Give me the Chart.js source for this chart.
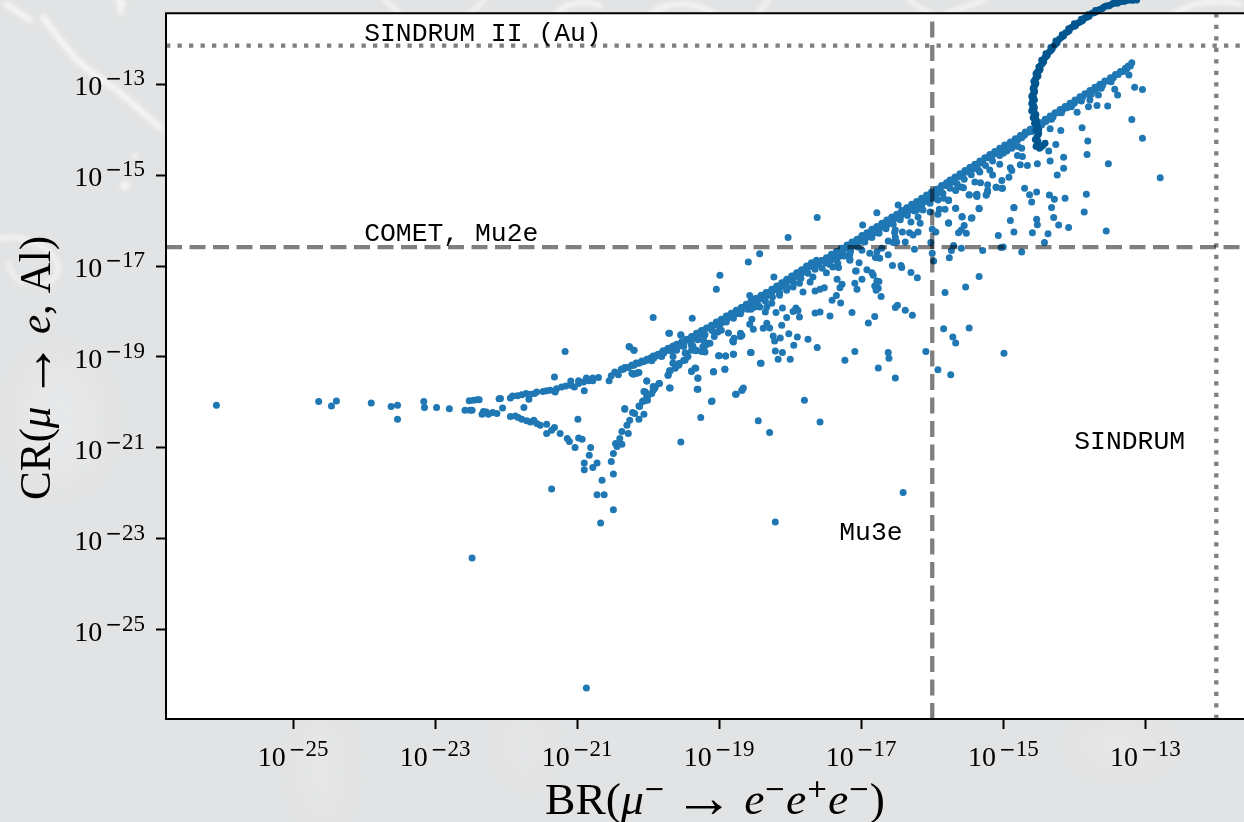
<!DOCTYPE html>
<html>
<head>
<meta charset="utf-8">
<title>BR vs CR</title>
<script src="https://cdn.jsdelivr.net/npm/chart.js@4/dist/chart.umd.min.js"></script>
<style>
  html, body { margin: 0; padding: 0; width: 1244px; height: 822px; overflow: hidden; background: #e2e3e4; }
  #backdrop { position: absolute; left: 0; top: 0; }
  #chart { position: absolute; left: 0; top: 0; }
</style>
</head>
<body>
<!-- faint track photo behind the figure -->
<svg id="backdrop" width="1244" height="822">
  <defs>
    <filter id="soft" x="-20%" y="-20%" width="140%" height="140%"><feGaussianBlur stdDeviation="2"/></filter>
    <filter id="softer" x="-50%" y="-50%" width="200%" height="200%"><feGaussianBlur stdDeviation="14"/></filter>
  </defs>
  <g filter="url(#softer)" fill="#e7e8e9">
    <ellipse cx="322" cy="770" rx="16" ry="50"/>
    <ellipse cx="525" cy="745" rx="14" ry="30"/>
    <ellipse cx="1120" cy="745" rx="40" ry="16"/>
    <ellipse cx="60" cy="420" rx="40" ry="60"/>
  </g>
  <g filter="url(#soft)" fill="none" stroke="#f6f6f6" stroke-linecap="round">
    <path stroke-width="6" d="M7 5 L30 20"/>
    <path stroke-width="6" d="M43 17 Q58 38 77 60 Q95 76 117 90 Q138 108 160 128"/>
    <path stroke-width="4" d="M0 239 Q20 234 43 247 Q62 262 58 272 Q52 286 38 284"/>
    <path stroke-width="3" d="M8 262 Q10 276 24 284"/>
    <path stroke-width="5" d="M122 0 L123 5"/>
    <path stroke-width="4" d="M118 0 L121 14"/>
    <path stroke-width="4" d="M385 0 L400 14"/>
    <path stroke-width="4" d="M485 0 L470 14"/>
    <path stroke-width="5" d="M555 14 Q575 -4 600 6"/>
    <path stroke-width="5" d="M650 14 Q680 -6 715 14"/>
    <path stroke-width="4" d="M768 0 L758 14"/>
    <path stroke-width="4" d="M908 0 L930 14"/>
    <path stroke-width="4" d="M985 0 L945 14"/>
    <path stroke-width="5" d="M1175 14 Q1200 -4 1240 4"/>
  </g>
  <g filter="url(#soft)" fill="#f8f8f8">
    <circle cx="125" cy="186" r="4"/>
    <circle cx="135" cy="156" r="2.5"/>
  </g>
</svg>
<canvas id="chart" width="1244" height="822"></canvas>
<script>
// all values below are log10 of the quantity

const tickExponents = [-25, -23, -21, -19, -17, -15, -13];

// scale limits, the y scale runs up to the top of the page so the curve can leave the frame
const xLimits = [-26.79, -11.61];
const yLimits = [-26.96, -11.15];
const frameTop = -11.44;

// limit lines
const lineCR = [-12.155, -16.585];   // SINDRUM II (Au), COMET/Mu2e
const lineBR = [-16, -12];           // Mu3e, SINDRUM

const noteTexts = ['SINDRUM II (Au)', 'COMET, Mu2e', 'Mu3e', 'SINDRUM'];
const noteBR = [-24, -24, -17.31, -14];
const noteCR = [-12.05, -16.45, -23.02, -21.02];

// far left tail
const tailBR = [-26.08,-24.64,-24.46,-24.39,-23.90,-23.62,-23.53,-23.53,-23.16,-23.15,-22.98,-22.80,-22.58,-22.51,-22.48,-22.52,-22.46,-22.41,-22.38,-22.34,-22.32,-22.28,-22.25,-22.19,-22.13,-22.10,-22.48,-20.87];
const tailCR = [-20.06,-19.98,-20.08,-19.97,-20.01,-20.09,-20.06,-20.37,-19.98,-20.11,-20.11,-20.14,-20.17,-20.17,-20.17,-19.96,-19.95,-19.94,-19.94,-20.26,-20.20,-20.21,-20.26,-20.22,-20.24,-19.92,-23.42,-26.28];

// upper branch up to where the main band starts
const upperBR = [-22.08,-21.94,-21.91,-21.84,-21.78,-21.72,-21.68,-21.66,-21.60,-21.57,-21.48,-21.43,-21.38,-21.31,-21.29,-21.22,-21.16,-21.09,-21.09,-21.04,-20.98,-20.98,-20.91,-20.90,-20.87,-20.84,-20.78,-20.78,-20.70,-21.32,-21.17,-20.55,-20.52,-20.47,-20.42,-20.37,-20.32,-20.26,-20.20,-20.23,-20.16,-20.09,-20.02,-19.97,-19.93,-19.86,-19.79,-19.72,-19.65,-19.57,-19.50,-19.43,-19.36,-19.29,-19.22,-20.23,-20.16,-20.13,-19.70,-19.54];
const upperCR = [-19.91,-19.90,-19.86,-19.85,-19.83,-19.80,-19.93,-19.82,-19.80,-19.77,-19.76,-19.74,-19.73,-19.77,-19.70,-19.66,-19.64,-19.53,-19.62,-19.66,-19.52,-19.58,-19.55,-19.74,-19.46,-19.52,-19.46,-19.52,-19.45,-19.44,-18.88,-19.52,-19.41,-19.33,-19.39,-19.27,-19.23,-18.78,-18.85,-19.18,-19.14,-19.11,-19.07,-19.03,-18.98,-18.94,-18.86,-18.81,-18.76,-18.72,-18.67,-18.62,-18.56,-18.48,-18.43,-19.36,-19.36,-19.34,-18.48,-18.51];

// branch bending down towards 1e-22
const lowerBR = [-22.05,-21.94,-21.87,-21.83,-21.78,-21.71,-21.66,-21.61,-21.57,-21.52,-21.43,-21.32,-21.36,-21.43,-21.24,-21.14,-21.11,-20.98,-20.93,-21.03,-20.81,-20.83,-20.90,-20.72,-20.78,-20.90,-20.65,-20.72,-20.62,-21.36,-20.49,-20.67,-21.75,-20.99];
const lowerCR = [-20.12,-20.31,-20.30,-20.33,-20.37,-20.40,-20.43,-20.39,-20.46,-20.50,-20.48,-20.55,-20.61,-20.68,-20.68,-20.79,-20.86,-20.78,-20.81,-20.99,-20.99,-21.16,-21.33,-21.33,-21.43,-21.48,-21.71,-22.03,-22.03,-21.90,-22.36,-22.65,-20.11,-20.37];

// branch coming back up
const riseBR = [-20.49,-20.52,-20.49,-20.44,-20.46,-20.37,-20.40,-20.37,-20.28,-20.30,-20.26,-20.13,-20.22,-20.19,-20.06,-20.33,-20.12,-20.07,-20.01,-20.04,-20.00,-19.93,-19.90,-19.84,-20.02,-19.69,-19.72,-19.69,-19.62,-19.57,-19.65,-19.50,-19.46,-19.39,-19.32,-19.22,-19.15,-19.20,-19.10,-19.54,-19.26,-18.76,-18.68,-18.45,-19.00,-18.91,-18.80,-18.55,-19.39,-19.33,-19.30,-19.30,-19.08,-18.92,-18.80,-18.68,-18.42];
const riseCR = [-21.57,-21.30,-21.12,-20.97,-20.90,-20.92,-20.79,-20.64,-20.68,-20.50,-20.39,-20.37,-20.22,-20.24,-20.26,-20.15,-20.09,-19.97,-19.95,-19.77,-19.84,-19.73,-19.66,-19.58,-19.53,-19.68,-19.40,-19.30,-19.25,-19.18,-19.13,-19.07,-18.92,-18.74,-18.85,-18.78,-18.70,-18.89,-19.97,-20.87,-20.33,-19.82,-19.73,-20.40,-18.97,-18.98,-18.94,-18.90,-19.32,-19.25,-19.47,-19.71,-19.33,-19.27,-18.67,-18.52,-19.14];

// main band, lower half
const bandLowBR = [-20.38,-20.33,-20.23,-20.17,-20.09,-20.02,-19.95,-19.88,-19.81,-19.74,-19.67,-19.60,-19.53,-19.46,-19.39,-19.32,-19.25,-19.18,-19.11,-19.04,-18.97,-18.90,-18.83,-18.76,-18.69,-18.62,-18.55,-18.48,-18.41,-18.34,-18.26,-18.19,-18.12,-18.05,-17.98,-17.91,-17.84,-17.77,-17.70,-17.63,
  -19.95,-19.81,-19.67,-19.53,-19.39,-19.25,-19.11,-18.97,-18.83,-18.69,-18.55,-18.41,-18.26,-18.12,-17.98,-17.84,-17.70,-17.60,-18.90,-18.76,-18.62,-18.48,-18.34,-18.19,-18.05,-17.91,-17.77];
const bandLowCR = [-19.27,-19.23,-19.18,-19.13,-19.09,-19.05,-19.01,-18.96,-18.91,-18.85,-18.79,-18.72,-18.67,-18.61,-18.55,-18.48,-18.42,-18.36,-18.30,-18.23,-18.17,-18.10,-18.04,-17.97,-17.91,-17.84,-17.77,-17.71,-17.64,-17.58,-17.51,-17.44,-17.37,-17.29,-17.22,-17.15,-17.08,-17.00,-16.93,-16.87,
  -19.08,-18.99,-18.87,-18.75,-18.63,-18.50,-18.38,-18.25,-18.12,-17.99,-17.85,-17.72,-17.59,-17.45,-17.30,-17.16,-17.01,-16.97,-18.19,-18.05,-17.92,-17.78,-17.66,-17.52,-17.37,-17.23,-17.08];

// main band, middle
const bandMidBR = [-17.56,-17.49,-17.42,-17.35,-17.28,-17.20,-17.13,-17.06,-16.99,-16.92,-16.85,-16.78,-16.71,-16.64,-16.57,-16.50,-16.43,-16.36,-16.29,-16.22,-16.15,-16.08,-16.01,-15.94,-15.87,-15.80,
  -17.50,-17.38,-17.25,-17.13,-17.00,-16.88,-16.75,-16.63,-16.50,-16.38,-16.25,-16.13,-16.00,-15.88,-17.44,-17.31,-17.19,-17.06,-16.94,-16.81,-16.69,-16.56,-16.44,-16.31,-16.19,-16.06,-15.94];
const bandMidCR = [-16.88,-16.82,-16.74,-16.68,-16.61,-16.54,-16.47,-16.41,-16.33,-16.27,-16.19,-16.13,-16.06,-15.99,-15.92,-15.86,-15.78,-15.72,-15.64,-15.58,-15.51,-15.44,-15.37,-15.31,-15.23,-15.17,
  -16.93,-16.85,-16.74,-16.56,-16.45,-16.34,-16.20,-16.08,-15.95,-15.83,-15.70,-15.60,-15.50,-15.36,-16.89,-16.79,-16.61,-16.50,-16.39,-16.27,-16.14,-16.01,-15.89,-15.77,-15.65,-15.55,-15.43];

// main band, top end
const bandTopBR = [-15.75,-15.68,-15.61,-15.54,-15.47,-15.40,-15.33,-15.26,-15.19,-15.12,-15.05,-14.98,-14.90,-14.83,-14.76,-14.69,-14.62,-14.55,-14.48,-14.41,-14.34,-14.27,-14.20,-14.13,-14.06,-13.99,-13.92,-13.85,-13.78,-13.71,-13.64,-13.57,-13.49,-13.42,-13.35,-13.28,-13.24,-13.19,
  -15.72,-15.58,-15.44,-15.30,-15.16,-15.02,-14.88,-14.74,-14.60,-14.46,-14.32,-14.18,-14.04,-13.90,-13.76,-13.62,-13.48];
const bandTopCR = [-15.11,-15.04,-14.97,-14.90,-14.83,-14.76,-14.69,-14.62,-14.55,-14.48,-14.41,-14.34,-14.27,-14.20,-14.13,-14.05,-13.99,-13.91,-13.85,-13.77,-13.70,-13.63,-13.56,-13.49,-13.42,-13.35,-13.28,-13.21,-13.14,-13.07,-13.00,-12.93,-12.86,-12.79,-12.72,-12.65,-12.60,-12.53,
  -15.16,-15.02,-14.87,-14.73,-14.59,-14.45,-14.31,-14.18,-14.04,-13.90,-13.77,-13.63,-13.50,-13.37,-13.22,-13.09,-12.95];

// points between the rows above, where the band reads as solid
const fillLowBR = [-20.35,-20.28,-20.20,-20.13,-20.06,-19.98,-19.92,-19.85,-19.78,-19.71,-19.64,-19.57,-19.50,-19.43,-19.36,-19.29,-19.22,-19.15,-19.08,-19.01,-18.94,-18.87,-18.80,-18.73,-18.66,-18.59,-18.52,-18.45,-18.38,-18.30,-18.23,-18.16,-18.09,-18.02,-17.95,-17.88,-17.81,-17.74,-17.67,-17.60];
const fillLowCR = [-19.27,-19.23,-19.18,-19.14,-19.10,-19.06,-19.02,-18.97,-18.91,-18.85,-18.79,-18.73,-18.67,-18.61,-18.55,-18.48,-18.42,-18.36,-18.30,-18.23,-18.17,-18.10,-18.04,-17.97,-17.91,-17.84,-17.77,-17.71,-17.64,-17.58,-17.51,-17.44,-17.37,-17.29,-17.22,-17.15,-17.08,-17.00,-16.94,-16.90];
const fillMidBR = [-17.52,-17.45,-17.38,-17.31,-17.24,-17.16,-17.09,-17.02,-16.95,-16.88,-16.81,-16.74,-16.67,-16.60,-16.53,-16.46,-16.39,-16.32,-16.25,-16.18,-16.11,-16.04,-15.97,-15.90,-15.83,-15.77,-15.71,-15.64,-15.57,-15.50,-15.43,-15.36,-15.29,-15.22,-15.15,-15.08,-15.01,-14.94,-14.86,-14.79,-14.72,-14.65,-14.58,-14.51,-14.44,-14.37,-14.30,-14.23,-14.16,-14.09,-14.02,-13.95,-13.88,-13.81,-13.74,-13.67,-13.60,-13.53,-13.45,-13.38,-13.31,-13.26,-13.21];
const fillMidCR = [-16.88,-16.81,-16.74,-16.67,-16.61,-16.54,-16.47,-16.40,-16.33,-16.26,-16.19,-16.13,-16.06,-15.99,-15.92,-15.85,-15.78,-15.71,-15.64,-15.58,-15.51,-15.44,-15.37,-15.30,-15.23,-15.17,-15.11,-15.04,-14.97,-14.90,-14.83,-14.76,-14.69,-14.62,-14.55,-14.48,-14.41,-14.34,-14.27,-14.20,-14.13,-14.06,-13.99,-13.92,-13.85,-13.77,-13.70,-13.63,-13.56,-13.49,-13.42,-13.35,-13.28,-13.21,-13.14,-13.07,-13.00,-12.93,-12.86,-12.79,-12.72,-12.66,-12.60];
const innerBR = [-18.50,-18.40,-18.30,-18.20,-18.10,-18.00,-17.90,-17.80,-17.70,-17.60,-17.50,-17.40,-17.30,-17.20,-17.10,-17.00,-16.90,-16.80,-16.70,-16.60,-16.50,-16.40,-16.30,-16.20,-16.10,-16.00,-15.90,-15.80,-15.70,-15.60,-15.50,-15.40,-15.30,-15.20,-15.10,-15.00,-14.90,-14.80,-14.70,-14.60,-14.50,-14.40,-14.30,-14.20,-14.10,-14.00,-13.90,-13.80,-13.70,-13.60];
const innerCR = [-17.79,-17.69,-17.61,-17.51,-17.41,-17.30,-17.20,-17.10,-16.99,-16.95,-16.89,-16.79,-16.69,-16.60,-16.50,-16.40,-16.31,-16.21,-16.11,-16.01,-15.92,-15.81,-15.71,-15.62,-15.52,-15.42,-15.33,-15.23,-15.12,-15.02,-14.93,-14.82,-14.72,-14.62,-14.52,-14.42,-14.33,-14.23,-14.12,-14.03,-13.93,-13.82,-13.72,-13.62,-13.52,-13.42,-13.32,-13.22,-13.12,-13.02];
// ragged lower edge of the band
const edgeBR = [-19.60,-19.50,-19.40,-19.30,-19.20,-19.10,-19.00,-18.90,-18.80,-18.70,-18.60,-18.55,-18.45,-18.35,-18.25,-18.15,-18.05,-17.95,-17.85,-17.75,-17.65,-17.55,-17.45,-17.35,-17.25,-17.15,-17.05,-16.95,-16.85,-16.75,-16.65,-16.55,-16.45,-16.35,-16.25,-16.15,-16.05,-15.95,-15.85,-15.75,-15.65,-15.55,-15.45,-15.35,-15.25,-15.15,-15.05,-14.95,-14.85];
const edgeCR = [-18.85,-18.77,-18.69,-18.62,-18.51,-18.42,-18.33,-18.23,-18.15,-18.05,-17.95,-17.95,-17.86,-17.77,-17.68,-17.58,-17.47,-17.37,-17.27,-17.16,-17.07,-17.05,-16.96,-16.86,-16.76,-16.67,-16.58,-16.47,-16.37,-16.28,-16.18,-16.08,-15.98,-15.89,-15.79,-15.69,-15.59,-15.50,-15.40,-15.29,-15.19,-15.09,-14.99,-14.89,-14.79,-14.69,-14.57,-14.47,-14.36];

// scatter below the band, around 1e-19 .. 1e-17
const scatterABR = [-20.21,-20.16,-20.02,-19.85,-19.93,-19.91,-20.06,-19.95,-20.02,-20.05,-20.08,-20.13,-20.33,-19.70,-19.72,-19.70,-19.65,-19.60,-19.56,-19.48,-19.48,-19.44,-19.39,-19.37,-19.33,-19.23,-19.25,-19.19,-19.13,-19.22,-19.65,-19.71,-19.54,-20.27,-20.20,-19.93,-19.38,-18.99,-19.04,-18.59,-18.23,-18.57,-19.01,-18.91,-18.80,-18.56,-18.41,-19.39,-19.34,-19.30,-19.08,-18.92,-19.31,-19.11,-18.77,-18.68,-18.66,-17.80,-18.81,-18.79,-18.70,-18.70,-18.87,-19.07,-19.02,-18.97,-18.57,-18.54,-18.52,-18.38,-18.33,-18.29,-18.12,-18.24,-18.22,-18.14,-18.02,-17.90,-17.75,-17.95,-18.21,-18.11,-18.17,-18.00,-17.62,-17.23,-17.09];
const scatterACR = [-19.38,-19.35,-19.53,-19.58,-19.65,-19.69,-19.76,-19.80,-19.87,-19.96,-19.98,-20.08,-20.13,-19.68,-19.40,-19.30,-19.14,-19.18,-19.14,-18.91,-19.07,-18.99,-18.85,-18.76,-18.86,-18.77,-18.88,-18.74,-18.70,-18.63,-18.99,-18.48,-18.52,-18.77,-18.85,-18.13,-18.15,-17.20,-17.51,-16.91,-17.24,-17.65,-18.97,-18.98,-18.94,-18.90,-19.14,-19.31,-19.24,-19.46,-19.32,-19.27,-19.71,-19.98,-19.82,-19.73,-19.68,-19.95,-18.65,-18.59,-18.55,-18.48,-18.47,-18.55,-18.45,-18.41,-18.28,-18.17,-18.39,-18.37,-18.26,-18.36,-18.30,-18.54,-18.65,-18.58,-18.49,-18.56,-18.61,-18.74,-18.87,-18.90,-19.05,-19.05,-18.79,-19.07,-18.88];

// scatter just under the band, 1e-18 .. 1e-17
const scatterBBR = [-18.35,-18.20,-18.11,-18.05,-17.96,-17.92,-17.89,-17.87,-17.65,-17.58,-17.44,-17.13,-17.82,-17.65,-17.58,-17.52,-17.41,-17.35,-17.29,-17.30,-17.27,-17.09,-17.06,-17.49,-17.34,-17.08,-17.16,-17.33,-17.40,-17.68,-17.72,-17.87,-17.96,-18.05,-18.15,-18.26,-18.33,-18.43,-18.50,-18.43,-18.29,-17.58,-16.41,-18.21];
const scatterBCR = [-18.01,-18.02,-17.92,-18.13,-18.00,-17.92,-17.98,-18.12,-18.03,-18.01,-18.10,-18.02,-17.57,-17.55,-17.51,-17.48,-17.75,-17.65,-17.81,-17.48,-17.40,-17.38,-17.51,-17.15,-17.29,-17.11,-16.87,-16.94,-17.02,-17.24,-17.35,-17.38,-17.46,-17.53,-17.64,-17.82,-17.90,-17.90,-17.90,-16.73,-20.66,-20.43,-21.98,-22.63];

// scatter around the Mu3e line
const scatterCBR = [-17.62,-18.03,-16.78,-16.98,-16.48,-16.30,-16.52,-16.53,-16.42,-16.32,-16.27,-16.20,-16.17,-16.20,-16.22,-16.13,-16.03,-16.03,-16.38,-16.50,-16.55,-16.52,-16.62,-16.71,-16.78,-16.88,-16.99,-17.16,-17.24,-17.16,-17.03,-17.07,-16.92,-16.85,-16.83,-16.99,-17.32,-16.80,-16.74,-16.62,-16.25,-16.56,-16.44,-16.43,-16.30,-16.21,-16.78,-16.75,-16.81,-16.76,-16.79,-16.72,-16.52,-16.49,-16.38,-16.28,-16.90,-16.81,-16.76,-16.52,-16.62,-16.61,-16.09,-15.98,-16.02,-16.00,-15.95,-16.00];
const scatterCCR = [-15.93,-16.37,-15.83,-16.10,-15.66,-16.03,-16.21,-16.26,-16.25,-16.27,-16.32,-16.25,-16.06,-15.92,-15.77,-15.77,-15.62,-15.81,-16.47,-16.47,-16.48,-16.37,-16.45,-16.61,-16.69,-16.72,-16.65,-16.74,-16.78,-16.85,-16.93,-17.11,-17.08,-17.15,-17.20,-17.29,-17.03,-16.81,-16.83,-16.75,-16.63,-16.99,-16.99,-17.03,-17.14,-17.26,-17.33,-17.34,-17.44,-17.49,-17.53,-17.67,-17.91,-17.86,-17.97,-18.08,-18.25,-18.11,-19.24,-19.46,-18.90,-19.03,-18.88,-16.89,-16.48,-16.19,-16.25,-16.72];

// scatter right of the Mu3e line
const scatterDBR = [-15.92,-15.84,-15.77,-15.82,-15.90,-15.92,-15.67,-15.67,-15.59,-15.48,-15.38,-15.24,-15.22,-15.34,-15.58,-15.45,-15.77,-15.55,-15.59,-15.52,-15.63,-15.07,-14.90,-14.85,-14.85,-15.10,-15.01,-15.03,-15.00,-15.29,-15.59,-15.70,-15.73,-15.76,-15.34,-15.53,-15.82,-15.84,-15.48,-15.71,-15.67,-14.99,-15.92,-15.74];
const scatterDCR = [-15.55,-15.51,-15.56,-15.75,-15.75,-15.86,-15.73,-15.33,-15.26,-15.44,-15.44,-15.44,-15.34,-15.73,-15.92,-15.95,-16.06,-16.11,-16.21,-16.28,-16.27,-16.33,-16.00,-16.25,-15.72,-15.27,-15.29,-16.59,-16.58,-16.66,-16.61,-16.55,-16.66,-16.82,-17.23,-17.46,-17.58,-18.38,-18.36,-18.56,-18.69,-18.92,-19.28,-19.39];

// scatter at the top right
const scatterEBR = [-13.23,-13.15,-13.04,-13.43,-13.39,-13.66,-13.68,-13.53,-13.80,-13.78,-13.96,-13.19,-13.04,-13.89,-14.19,-14.34,-13.81,-13.82,-14.26,-14.36,-14.15,-14.15,-14.34,-14.24,-13.52,-12.79,-14.52,-14.66,-14.76,-14.73,-14.80,-14.74,-14.79,-14.88,-15.00,-15.05,-14.90,-14.88,-14.92,-15.02,-15.19,-15.15,-15.33,-15.40,-15.32,-15.22,-15.10,-15.02,-15.22,-15.24,-15.37,-15.37,-15.48,-15.67,-15.56,-15.77,-15.67,-15.58,-15.44,-15.34,-15.77,-14.85,-14.70,-14.63,-14.53,-14.60,-14.35,-14.28,-14.13,-13.83,-13.86,-14.32,-14.29,-14.53,-14.52,-14.22,-14.08,-14.59,-14.37,-13.55,-14.42,-14.74];
const scatterECR = [-12.80,-13.07,-13.12,-13.11,-13.24,-13.24,-13.47,-13.48,-13.50,-13.35,-13.62,-13.78,-14.19,-13.96,-14.02,-13.98,-14.25,-14.55,-14.33,-14.47,-14.61,-14.85,-14.69,-15.00,-14.75,-15.06,-14.75,-14.79,-14.77,-14.59,-14.57,-14.41,-14.37,-14.41,-14.52,-14.76,-14.84,-14.90,-15.05,-15.12,-14.89,-15.00,-14.93,-15.15,-15.17,-15.21,-15.27,-15.29,-15.37,-15.44,-15.42,-15.47,-15.43,-15.34,-15.28,-15.55,-15.73,-15.91,-15.94,-15.74,-16.05,-15.71,-15.29,-15.43,-15.37,-15.59,-15.44,-15.53,-15.51,-15.42,-15.81,-15.71,-15.93,-15.97,-16.09,-16.10,-16.15,-16.27,-16.29,-16.23,-16.48,-16.69];

// dark curve that leaves the frame at the top
const curveBR = [-14.41,-14.44,-14.49,-14.54,-14.51,-14.53,-14.50,-14.54,-14.52,-14.56,-14.54,-14.57,-14.56,-14.59,-14.57,-14.59,-14.57,-14.58,-14.56,-14.57,-14.54,-14.55,-14.51,-14.52,-14.48,-14.47,-14.43,-14.42,-14.38,-14.35,-14.31,-14.28,-14.24,-14.21,-14.15,-14.12,-14.07,-14.04,-13.98,-13.94,-13.88,-13.85,-13.79,-13.75,-13.69,-13.65,-13.60,-13.55,-13.50,-13.45,-13.39,-13.34,-13.29,-13.23,-13.18,-13.12];
const curveCR = [-14.30,-14.35,-14.41,-14.37,-14.26,-14.17,-14.08,-14.02,-13.93,-13.86,-13.77,-13.71,-13.63,-13.55,-13.48,-13.38,-13.31,-13.22,-13.14,-13.06,-12.98,-12.89,-12.82,-12.73,-12.67,-12.58,-12.51,-12.43,-12.37,-12.29,-12.23,-12.15,-12.09,-12.01,-11.94,-11.87,-11.82,-11.75,-11.71,-11.65,-11.60,-11.54,-11.51,-11.44,-11.41,-11.36,-11.33,-11.28,-11.27,-11.22,-11.22,-11.18,-11.18,-11.15,-11.16,-11.15];
const curveFillBR = [-14.47,-14.52,-14.55,-14.51,-14.50,-14.54,-14.53,-14.58,-14.54,-14.60,-14.56,-14.60,-14.56,-14.60,-14.56,-14.58,-14.55,-14.57,-14.53,-14.54,-14.49,-14.50,-14.45,-14.46,-14.40,-14.40,-14.33,-14.33,-14.26,-14.26,-14.18,-14.17,-14.09,-14.08,-14.00,-14.00,-13.91,-13.90,-13.82,-13.81,-13.72,-13.70,-13.62,-13.58,-13.52,-13.47,-13.42,-13.36,-13.31,-13.26];
const curveFillCR = [-14.39,-14.31,-14.22,-14.12,-14.00,-13.90,-13.82,-13.74,-13.67,-13.59,-13.52,-13.43,-13.35,-13.27,-13.18,-13.10,-13.02,-12.94,-12.85,-12.77,-12.70,-12.62,-12.55,-12.47,-12.40,-12.33,-12.26,-12.19,-12.12,-12.05,-11.97,-11.91,-11.85,-11.78,-11.73,-11.67,-11.63,-11.57,-11.53,-11.47,-11.43,-11.38,-11.35,-11.30,-11.28,-11.24,-11.22,-11.19,-11.18,-11.16];

const pow10 = e => Math.pow(10, e);
const toPoints = (xs, ys) => xs.map((x, i) => ({ x: pow10(x), y: pow10(ys[i]) }));

const bluePoints = [].concat(
    toPoints(tailBR, tailCR),
    toPoints(upperBR, upperCR),
    toPoints(lowerBR, lowerCR),
    toPoints(riseBR, riseCR),
    toPoints(bandLowBR, bandLowCR),
    toPoints(bandMidBR, bandMidCR),
    toPoints(bandTopBR, bandTopCR),
    toPoints(fillLowBR, fillLowCR),
    toPoints(fillMidBR, fillMidCR),
    toPoints(innerBR, innerCR),
    toPoints(edgeBR, edgeCR),
    toPoints(scatterABR, scatterACR),
    toPoints(scatterBBR, scatterBCR),
    toPoints(scatterCBR, scatterCCR),
    toPoints(scatterDBR, scatterDCR),
    toPoints(scatterEBR, scatterECR)
);

const darkPoints = toPoints(curveBR, curveCR).concat(toPoints(curveFillBR, curveFillCR));

const SERIF = '"Liberation Serif", serif';
const MONO = '"Liberation Mono", monospace';
const SYMBOL = '"DejaVu Sans", sans-serif';

// draws a run of pieces [text, font, raise, gap] starting at x
function drawRun(ctx, pieces, x, y) {
    let cx = x;
    pieces.forEach(p => {
        ctx.font = p[1];
        ctx.fillText(p[0], cx, y - (p[2] || 0));
        cx += ctx.measureText(p[0]).width + (p[3] || 0);
    });
}

function measureRun(ctx, pieces) {
    let w = 0;
    pieces.forEach(p => {
        ctx.font = p[1];
        w += ctx.measureText(p[0]).width + (p[3] || 0);
    });
    return w;
}

function tickPieces(value) {
    const exp = Math.abs(Math.round(Math.log10(value)));
    return [
        ['10', '28px ' + SERIF, 0, 3],
        ['\u2212', '20px ' + SYMBOL, 10],
        [String(exp), '23px ' + SERIF, 10]
    ];
}

const frameAndText = {
    id: 'frameAndText',
    beforeDatasetsDraw(chart) {
        const { ctx, chartArea, scales } = chart;
        const top = scales.y.getPixelForValue(pow10(frameTop));
        ctx.save();
        ctx.fillStyle = '#ffffff';
        ctx.fillRect(chartArea.left, top, chartArea.right - chartArea.left, chartArea.bottom - top);
        ctx.restore();
    },
    afterDatasetsDraw(chart) {
        const { ctx, chartArea, scales } = chart;
        const top = scales.y.getPixelForValue(pow10(frameTop));
        ctx.save();
        ctx.strokeStyle = '#000000';
        ctx.lineWidth = 2;
        ctx.beginPath();
        ctx.moveTo(chartArea.right + 2, top);
        ctx.lineTo(chartArea.left, top);
        ctx.lineTo(chartArea.left, chartArea.bottom);
        ctx.lineTo(chartArea.right + 2, chartArea.bottom);
        ctx.stroke();

        ctx.fillStyle = '#000000';
        ctx.textBaseline = 'alphabetic';
        ctx.textAlign = 'left';

        // notes inside the plot
        ctx.font = '26.4px ' + MONO;
        noteTexts.forEach((t, i) => {
            ctx.fillText(t, scales.x.getPixelForValue(pow10(noteBR[i])), scales.y.getPixelForValue(pow10(noteCR[i])));
        });

        // tick labels, 10 with a raised exponent
        scales.x.ticks.forEach(t => {
            const pieces = tickPieces(t.value);
            const w = measureRun(ctx, pieces);
            drawRun(ctx, pieces, scales.x.getPixelForValue(t.value) - w / 2, 766);
        });
        scales.y.ticks.forEach(t => {
            const pieces = tickPieces(t.value);
            const w = measureRun(ctx, pieces);
            drawRun(ctx, pieces, 145 - w, scales.y.getPixelForValue(t.value) + 11);
        });

        // axis titles
        const big = '44px ' + SERIF;
        const bigIt = 'italic 44px ' + SERIF;
        const arrow = '58px ' + SERIF;
        const sup = '25px ' + SYMBOL;
        const xTitle = [
            ['BR(', big], ['\u03bc', bigIt], ['\u2212', sup, 17, 8], ['\u2192', arrow, -3, 10],
            ['e', bigIt], ['\u2212', sup, 17], ['e', bigIt], ['+', sup, 17], ['e', bigIt], ['\u2212', sup, 17], [')', big]
        ];
        const xw = measureRun(ctx, xTitle);
        ctx.save();
        ctx.translate(545, 814);
        ctx.scale(340 / xw, 1);
        drawRun(ctx, xTitle, 0, 0);
        ctx.restore();

        const yTitle = [
            ['CR(', big], ['\u03bc', bigIt, 0, 8], ['\u2192', arrow, -3, 8], ['e', bigIt], [', Al)', big]
        ];
        const yw = measureRun(ctx, yTitle);
        ctx.save();
        ctx.translate(50, 500);
        ctx.rotate(-Math.PI / 2);
        ctx.scale(264 / yw, 1);
        drawRun(ctx, yTitle, 0, 0);
        ctx.restore();
        ctx.restore();
    }
};

const axisCommon = {
    type: 'logarithmic',
    afterBuildTicks: scale => { scale.ticks = tickExponents.map(e => ({ value: pow10(e) })); },
    border: { display: false },
    grid: { drawOnChartArea: false, drawTicks: true, tickLength: 10, tickWidth: 2, tickColor: '#000000' },
    ticks: { display: false, autoSkip: false }
};

const limitLine = (points, dash) => ({
    data: points,
    showLine: true,
    pointRadius: 0,
    borderColor: 'rgba(0, 0, 0, 0.5)',
    borderWidth: 4.3,
    borderDash: dash,
    borderCapStyle: 'butt',
    order: 0
});

new Chart(document.getElementById('chart'), {
    type: 'scatter',
    data: {
        datasets: [
            limitLine([{ x: pow10(xLimits[0]), y: pow10(lineCR[0]) }, { x: pow10(xLimits[1]), y: pow10(lineCR[0]) }], [4.3, 7.2]),
            limitLine([{ x: pow10(xLimits[0]), y: pow10(lineCR[1]) }, { x: pow10(xLimits[1]), y: pow10(lineCR[1]) }], [16, 7.5]),
            limitLine([{ x: pow10(lineBR[0]), y: pow10(yLimits[0]) }, { x: pow10(lineBR[0]), y: pow10(frameTop) }], [16, 7.5]),
            limitLine([{ x: pow10(lineBR[1]), y: pow10(yLimits[0]) }, { x: pow10(lineBR[1]), y: pow10(frameTop) }], [4.3, 7.2]),
            {
                data: darkPoints,
                pointRadius: 3.4,
                pointBorderWidth: 0,
                pointBackgroundColor: '#02568f',
                clip: false,
                order: 1
            },
            {
                data: bluePoints,
                pointRadius: 3.5,
                pointBorderWidth: 0,
                pointBackgroundColor: '#1f77b4',
                order: 2
            }
        ]
    },
    options: {
        responsive: false,
        animation: false,
        layout: { autoPadding: false, padding: { left: 156, right: 0, top: 0, bottom: 93 } },
        plugins: { legend: { display: false }, tooltip: { enabled: false } },
        scales: {
            x: { ...axisCommon, min: pow10(xLimits[0]), max: pow10(xLimits[1]) },
            y: { ...axisCommon, min: pow10(yLimits[0]), max: pow10(yLimits[1]) }
        }
    },
    plugins: [frameAndText]
});
</script>
</body>
</html>
